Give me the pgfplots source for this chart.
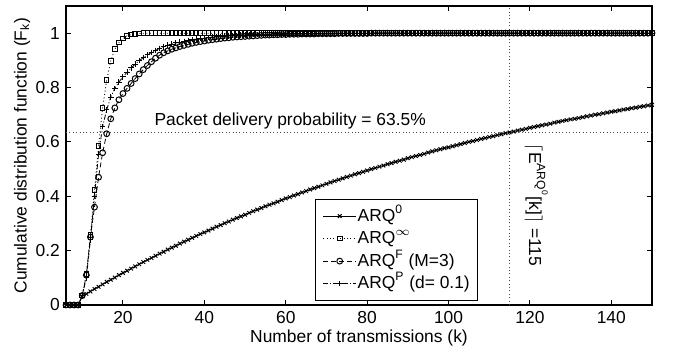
\documentclass[border=0pt]{standalone}
\usepackage{fontspec}
\setmainfont{Liberation Sans}
\usepackage{pgfplots}
\pgfplotsset{compat=1.18}
\usepackage{pgfplotstable}

\pgfplotstableread{
k a b c d
6 0 0 0 0
7 0 0 0 0
8 0 0 0 0
9 0 0 0 0
10 0.032 0.035 0.035 0.035
11 0.041 0.114 0.110 0.100
12 0.050 0.257 0.250 0.240
13 0.059 0.422 0.360 0.400
14 0.067 0.586 0.470 0.555
15 0.076 0.725 0.560 0.656
16 0.085 0.827 0.630 0.718
17 0.093 0.898 0.685 0.765
18 0.101 0.941 0.725 0.797
19 0.110 0.965 0.755 0.820
20 0.118 0.980 0.778 0.839
21 0.126 0.990 0.797 0.857
22 0.134 0.995 0.815 0.872
23 0.142 0.998 0.833 0.886
24 0.150 0.999 0.850 0.899
25 0.158 1 0.866 0.910
26 0.166 1 0.881 0.920
27 0.173 1 0.895 0.929
28 0.181 1 0.908 0.937
29 0.189 1 0.919 0.944
30 0.196 1 0.928 0.950
31 0.204 1 0.935 0.956
32 0.211 1 0.941 0.960
33 0.218 1 0.946 0.964
34 0.226 1 0.951 0.967
35 0.233 1 0.955 0.970
36 0.240 1 0.959 0.973
37 0.247 1 0.963 0.976
38 0.254 1 0.966 0.978
39 0.261 1 0.969 0.980
40 0.267 1 0.971 0.982
41 0.274 1 0.974 0.984
42 0.281 1 0.976 0.985
43 0.288 1 0.978 0.987
44 0.294 1 0.980 0.988
45 0.301 1 0.982 0.989
46 0.307 1 0.983 0.990
47 0.314 1 0.985 0.991
48 0.320 1 0.986 0.992
49 0.326 1 0.987 0.993
50 0.332 1 0.988 0.993
51 0.339 1 0.989 0.994
52 0.345 1 0.990 0.995
53 0.351 1 0.991 0.995
54 0.357 1 0.992 0.996
55 0.363 1 0.993 0.996
56 0.369 1 0.993 0.996
57 0.374 1 0.994 0.997
58 0.380 1 0.994 0.997
59 0.386 1 0.995 0.997
60 0.392 1 0.995 0.998
61 0.397 1 0.996 0.998
62 0.403 1 0.996 0.998
63 0.408 1 0.996 0.998
64 0.414 1 0.997 0.998
65 0.419 1 0.997 0.998
66 0.425 1 0.997 0.999
67 0.430 1 0.997 0.999
68 0.435 1 0.998 0.999
69 0.440 1 0.998 0.999
70 0.446 1 0.998 0.999
71 0.451 1 0.998 0.999
72 0.456 1 0.998 0.999
73 0.461 1 0.999 1
74 0.466 1 0.999 1
75 0.471 1 0.999 1
76 0.476 1 0.999 1
77 0.481 1 0.999 1
78 0.485 1 0.999 1
79 0.490 1 0.999 1
80 0.495 1 0.999 1
81 0.500 1 1 1
82 0.504 1 1 1
83 0.509 1 1 1
84 0.513 1 1 1
85 0.518 1 1 1
86 0.522 1 1 1
87 0.527 1 1 1
88 0.531 1 1 1
89 0.535 1 1 1
90 0.540 1 1 1
91 0.544 1 1 1
92 0.548 1 1 1
93 0.552 1 1 1
94 0.556 1 1 1
95 0.561 1 1 1
96 0.565 1 1 1
97 0.569 1 1 1
98 0.573 1 1 1
99 0.577 1 1 1
100 0.580 1 1 1
101 0.584 1 1 1
102 0.588 1 1 1
103 0.592 1 1 1
104 0.596 1 1 1
105 0.600 1 1 1
106 0.603 1 1 1
107 0.607 1 1 1
108 0.611 1 1 1
109 0.614 1 1 1
110 0.618 1 1 1
111 0.621 1 1 1
112 0.625 1 1 1
113 0.628 1 1 1
114 0.632 1 1 1
115 0.635 1 1 1
116 0.638 1 1 1
117 0.642 1 1 1
118 0.645 1 1 1
119 0.648 1 1 1
120 0.652 1 1 1
121 0.655 1 1 1
122 0.658 1 1 1
123 0.661 1 1 1
124 0.664 1 1 1
125 0.667 1 1 1
126 0.671 1 1 1
127 0.674 1 1 1
128 0.677 1 1 1
129 0.680 1 1 1
130 0.683 1 1 1
131 0.685 1 1 1
132 0.688 1 1 1
133 0.691 1 1 1
134 0.694 1 1 1
135 0.697 1 1 1
136 0.700 1 1 1
137 0.702 1 1 1
138 0.705 1 1 1
139 0.708 1 1 1
140 0.711 1 1 1
141 0.713 1 1 1
142 0.716 1 1 1
143 0.719 1 1 1
144 0.721 1 1 1
145 0.724 1 1 1
146 0.726 1 1 1
147 0.729 1 1 1
148 0.731 1 1 1
149 0.734 1 1 1
150 0.736 1 1 1
}\datatable

\begin{document}
\fontsize{8.7}{10.4}\selectfont
\begin{tikzpicture}
\begin{axis}[
  scale only axis, width=293pt, height=149.5pt,
  xmin=6, xmax=150, ymin=0, ymax=1.1,
  xtick={20,40,60,80,100,120,140},
  ytick={0,0.2,0.4,0.6,0.8,1},
  tick align=inside, major tick length=2.5pt,
  axis line style={line width=0.9pt},
  every tick/.style={black, line width=0.5pt},
  /pgf/number format/assume math mode=true,
  ticklabel style={font=\fontsize{8.7}{10}\selectfont},
  xlabel={Number of transmissions (k)},
  ylabel={Cumulative distribution function (F\textsubscript{k})},
  x label style={at={(axis description cs:0.5,-0.11)},anchor=center},
  y label style={at={(axis description cs:-0.075,0.5)},anchor=center},
  clip=false,
  legend cell align=left,
  legend style={at={(axis description cs:0.425,0.013)}, anchor=south west,
    draw=black, line width=0.7pt, inner xsep=3.5pt, inner ysep=2.9pt, row sep=0.25pt,
    nodes={inner xsep=0.5pt, inner ysep=1pt, text height=7pt, text depth=2pt,
      font=\fontsize{8.7}{10}\selectfont}},
  legend image code/.code={\draw[mark repeat=2,mark phase=2,#1] plot coordinates {(0pt,0pt) (8.25pt,0pt) (16.5pt,0pt)};},
]
\addplot[forget plot, black!70, line width=0.4pt, dash pattern=on 0.5pt off 1.2pt] coordinates {(6,0.635) (150,0.635)};
\addplot[forget plot, black!70, line width=0.4pt, dash pattern=on 0.5pt off 1.2pt] coordinates {(115,0) (115,1.1)};

\addplot[black, line width=0.45pt, mark=x, mark size=1.3pt, mark options={solid, line width=0.5pt}] table[x=k,y=a]{\datatable};
\addplot[black, line width=0.4pt, dash pattern=on 0.5pt off 1.2pt, mark=square, mark size=1.15pt, mark options={solid, line width=0.5pt}] table[x=k,y=b]{\datatable};
\addplot[black, line width=0.4pt, dash pattern=on 2.5pt off 1.5pt, mark=o, mark size=1.45pt, mark options={solid, line width=0.5pt}] table[x=k,y=c]{\datatable};
\addplot[black, line width=0.4pt, dash pattern=on 2.5pt off 1pt on 0.5pt off 1pt, mark=+, mark size=1.4pt, mark options={solid, line width=0.5pt}] table[x=k,y=d]{\datatable};
\legend{ARQ\textsuperscript{0}, ARQ\textsuperscript{$\infty$}, ARQ\textsuperscript{F} (M=3), ARQ\textsuperscript{P} (d= 0.1)}

\node[anchor=base west, inner sep=0] at (axis cs:27.65,0.661) {Packet delivery probability = 63.5\%};
\node[anchor=base west, inner sep=0, rotate=-90] at (axis cs:119.8,0.594) {$\lceil$E\textsuperscript{ARQ\textsuperscript{0}}[k]$\rceil$ =115};
\end{axis}
\path (current axis.south west) ++(-33pt,-23.5pt) coordinate (bl);
\path (current axis.north east) ++(13pt,3pt) coordinate (tr);
\pgfresetboundingbox
\path[use as bounding box] (bl) rectangle (tr);
\end{tikzpicture}
\end{document}
